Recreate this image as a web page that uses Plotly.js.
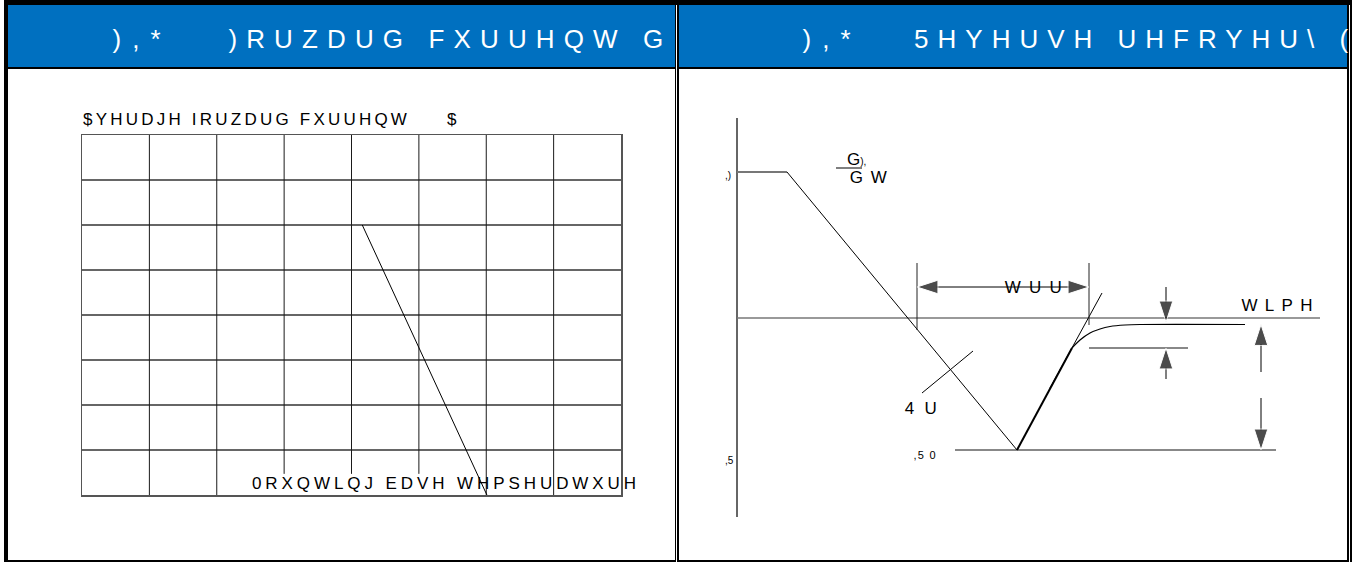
<!DOCTYPE html>
<html>
<head>
<meta charset="utf-8">
<script src="https://cdn.plot.ly/plotly-3.0.1.min.js"></script>
<style>
  html, body { margin: 0; padding: 0; background: #fff; }
  #chart { width: 1354px; height: 562px; }
</style>
</head>
<body>
<div id="chart"></div>
<script>
// ---- left panel: grid chart (8 x 8 cells) ----
var gridCols = [0, 1, 2, 3, 4, 5, 6, 7, 8];
var colBottom = [0, 0, 0, 0.47, 0.47, 0.47, 0, 0, 0];
var derateTemp = [4.16, 6.01];
var derateCurrent = [6, 0];

// ---- right panel: reverse recovery waveform (arbitrary units) ----
var flatT = [0, 5.0];
var flatI = [14.6, 14.6];
var fallT = [5.0, 28.0];
var fallI = [14.6, -13.2];
var riseT = [28.0, 33.5];
var riseI = [-13.2, -3.0];
var tailT = [33.5, 34.3, 35.3, 36.3, 37.3, 38.8, 40.3, 50.8];
var tailI = [-3.0, -2.2, -1.5, -1.1, -0.85, -0.7, -0.65, -0.65];
var tangentT = [31.3, 36.5];
var tangentI = [-7.0, 2.5];
var axisT = [0, 0];
var axisI = [20, -19.9];
var zeroT = [0, 58.3];
var zeroI = [0, 0];
var irmT = [21.8, 53.9];
var irmI = [-13.2, -13.2];
var recT = [35.2, 45.1];
var recI = [-3.0, -3.0];
var trrMarkT = [18.0, 35.2];
var trrMarkTop = [5.5, 5.5];
var trrMarkBottom = [-1.2, -0.7];
var qrrT = [18.5, 23.6];
var qrrI = [-7.5, -3.3];
var fracT = [9.9, 12.5];
var fracI = [15.0, 15.0];
// arrows: [tailT, tailI, tipT, tipI]
var arrows = [
  [26.6, 3.1, 18.0, 3.1],
  [26.6, 3.1, 35.2, 3.1],
  [42.9, 3.1, 42.9, -0.4],
  [42.9, -6.1, 42.9, -3.0],
  [52.4, -5.4, 52.4, -0.65],
  [52.4, -8.0, 52.4, -13.2]
];

var W = 1354, H = 562;
function px(x) { return x / W; }
function py(y) { return 1 - y / H; }

var traces = [];

// left grid verticals
var vx = [], vy = [];
gridCols.forEach(function (c, i) {
  if (i === 0 || i === gridCols.length - 1) return;
  vx.push(c, c, null);
  vy.push(colBottom[i], 8, null);
});
traces.push({x: vx, y: vy, xaxis: 'x', yaxis: 'y', mode: 'lines',
  line: {color: '#1a1a1a', width: 1}, hoverinfo: 'skip'});
traces.push({x: derateTemp, y: derateCurrent, xaxis: 'x', yaxis: 'y', mode: 'lines',
  line: {color: '#000', width: 1}, hoverinfo: 'skip'});

function seg(x, y, color, width, shape) {
  traces.push({x: x, y: y, xaxis: 'x2', yaxis: 'y2', mode: 'lines',
    line: {color: color, width: width, shape: shape || 'linear'}, hoverinfo: 'skip'});
}
seg(axisT, axisI, '#333', 1.5);
seg(zeroT, zeroI, '#777', 1.5);
seg(irmT, irmI, '#888', 2);
seg(recT, recI, '#888', 2);
seg(flatT, flatI, '#777', 2);
seg(fallT, fallI, '#000', 1);
seg(riseT, riseI, '#000', 2);
seg(tailT, tailI, '#000', 1.2, 'spline');
seg(tangentT, tangentI, '#000', 1);
seg(qrrT, qrrI, '#000', 1);
seg(fracT, fracI, '#555', 1.5);
seg([trrMarkT[0], trrMarkT[0]], [trrMarkTop[0], trrMarkBottom[0]], '#222', 1);
seg([trrMarkT[1], trrMarkT[1]], [trrMarkTop[1], trrMarkBottom[1]], '#222', 1);

arrows.forEach(function (a) {
  traces.push({x: [a[0], a[2]], y: [a[1], a[3]], xaxis: 'x2', yaxis: 'y2',
    mode: 'lines+markers', line: {color: '#000', width: 1},
    marker: {symbol: 'arrow', size: [0, 22], angleref: 'previous', color: '#000'},
    hoverinfo: 'skip'});
});

// backgrounds / frames
function box(x0, x1, y0, y1, color) {
  return {type: 'rect', xref: 'paper', yref: 'paper', x0: px(x0), x1: px(x1), y0: py(y0), y1: py(y1),
    fillcolor: color, line: {width: 0}, layer: 'below'};
}
var shapes = [
  box(4, 1352, 0, 562, '#000'),
  box(676, 677, 5, 562, '#fff'),
  box(1349, 1350, 5, 562, '#fff'),
  box(8, 675, 69, 560, '#fff'),
  box(679, 1347, 69, 560, '#fff'),
  box(8, 675, 5, 67, '#0070c0'),
  box(679, 1347, 5, 67, '#0070c0')
];

var FONT = 'Liberation Sans Narrow, Liberation Sans, Arial, sans-serif';
var annotations = [];
var fitWidth = [];
function label(text, x, y, ref, anchor, size, color, w) {
  annotations.push({text: text, x: x, y: y, xref: ref[0], yref: ref[1],
    xanchor: anchor, yanchor: 'middle', showarrow: false,
    font: {family: FONT, size: size, color: color}});
  fitWidth.push(w || 0);
}
var P = ['paper', 'paper'], R = ['x2', 'y2'];
function rx(p) { return (p - 737) / 10; }
function ry(p) { return (318 - p) / 10; }

label('),*', px(136), py(39), P, 'center', 26, '#fff', 48);
label(')RUZDUG FXUUHQW G', px(445.5), py(39), P, 'center', 26, '#fff', 435);
label('),*', px(826), py(39), P, 'center', 26, '#fff', 48);
label('5HYHUVH UHFRYHU\\ (', px(1132), py(39), P, 'center', 26, '#fff', 434);
label('$YHUDJH IRUZDUG FXUUHQW', px(245), py(119), P, 'center', 17, '#000', 324);
label('$', px(452), py(119), P, 'center', 17, '#000', 0);
label('0RXQWLQJ EDVH WHPSHUDWXUH', px(444), py(483), P, 'center', 17, '#000', 384);
label(',)', rx(733), ry(175), R, 'right', 10, '#000', 0);
label(',5', rx(736), ry(460), R, 'right', 10, '#000', 0);
label(',5 0', rx(924), ry(455), R, 'center', 11, '#000', 22);
label('4 U', rx(921), ry(408), R, 'center', 17, '#000', 32);
label('WUU', rx(1033.5), ry(287), R, 'center', 17, '#000', 57);
label('WLPH', rx(1276.5), ry(305), R, 'center', 17, '#000', 71);
label("G<span style='font-size:10px'>),</span>", rx(856), ry(159), R, 'center', 17, '#000', 0);
label('G W', rx(868.5), ry(177), R, 'center', 17, '#000', 37);

var hidden = {showgrid: false, zeroline: false, showticklabels: false, showline: false, ticks: ''};

var layout = {
  width: W, height: H,
  margin: {l: 0, r: 0, t: 0, b: 0},
  paper_bgcolor: '#fff', plot_bgcolor: 'rgba(0,0,0,0)',
  showlegend: false,
  xaxis: {domain: [px(82), px(621)], range: [0, 8], showgrid: false, zeroline: false,
    showticklabels: false, ticks: '', showline: true, mirror: true, linecolor: '#555', linewidth: 1.5},
  yaxis: {domain: [py(495), py(135)], range: [0, 8], dtick: 1, showgrid: true, gridcolor: '#666',
    gridwidth: 1.5, zeroline: false, showticklabels: false, ticks: '', showline: true, mirror: true,
    linecolor: '#555', linewidth: 1.5},
  xaxis2: Object.assign({domain: [px(680), px(1347)], range: [-5.7, 61.0], anchor: 'y2'}, hidden),
  yaxis2: Object.assign({domain: [py(560), py(70)], range: [-24.2, 24.8], anchor: 'x2'}, hidden),
  shapes: shapes,
  annotations: annotations
};

// stretch the spaced labels to the widths they take in the drawing
var st = document.createElement('style');
document.head.appendChild(st);

Plotly.newPlot('chart', traces, layout, {displayModeBar: false, staticPlot: true}).then(function (gd) {
  var css = '', upd = {};
  fitWidth.forEach(function (w, i) {
    if (!w) return;
    var t = gd.querySelector('.annotation[data-index="' + i + '"] text');
    if (!t) return;
    var natural = t.getComputedTextLength();
    var n = t.textContent.length;
    var s = Math.max(0, (w - natural) / (n - 1));
    css += '.annotation[data-index="' + i + '"] text { letter-spacing: ' + s.toFixed(2) + 'px; }\n';
    upd['annotations[' + i + '].xshift'] = s / 2;
  });
  st.textContent = css;
  return Plotly.relayout(gd, upd);
});
</script>
</body>
</html>
